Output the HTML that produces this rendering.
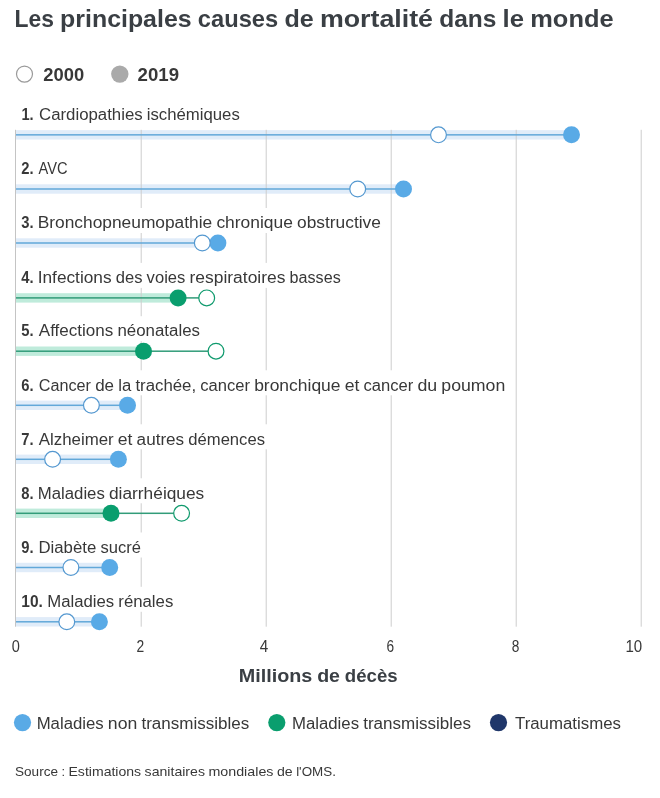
<!DOCTYPE html>
<html lang="fr">
<head>
<meta charset="utf-8">
<title>Les principales causes de mortalité dans le monde</title>
<style>
html,body{margin:0;padding:0;background:#fff;}
body{width:660px;height:798px;overflow:hidden;}
svg{display:block;}
text{font-family:"Liberation Sans", sans-serif;fill:#383838;}
.b{font-weight:bold;}
</style>
</head>
<body>
<svg width="660" height="798" viewBox="0 0 660 798">
<rect width="660" height="798" fill="#fff"/>
<text class="b" x="14.45" y="26.6" font-size="24" textLength="39.42" lengthAdjust="spacingAndGlyphs" style="fill:#3a3f44">Les</text> <text class="b" x="60.08" y="26.6" font-size="24" textLength="131.53" lengthAdjust="spacingAndGlyphs" style="fill:#3a3f44">principales</text> <text class="b" x="197.82" y="26.6" font-size="24" textLength="80.38" lengthAdjust="spacingAndGlyphs" style="fill:#3a3f44">causes</text> <text class="b" x="284.42" y="26.6" font-size="24" textLength="29.27" lengthAdjust="spacingAndGlyphs" style="fill:#3a3f44">de</text> <text class="b" x="319.90" y="26.6" font-size="24" textLength="113.11" lengthAdjust="spacingAndGlyphs" style="fill:#3a3f44">mortalité</text> <text class="b" x="439.22" y="26.6" font-size="24" textLength="57.20" lengthAdjust="spacingAndGlyphs" style="fill:#3a3f44">dans</text> <text class="b" x="502.63" y="26.6" font-size="24" textLength="21.43" lengthAdjust="spacingAndGlyphs" style="fill:#3a3f44">le</text> <text class="b" x="530.28" y="26.6" font-size="24" textLength="83.29" lengthAdjust="spacingAndGlyphs" style="fill:#3a3f44">monde</text>
<circle cx="24.5" cy="74.1" r="8" fill="#fff" stroke="#9a9a9a" stroke-width="1.2"/>
<text class="b" x="43.30" y="81.0" font-size="18" textLength="40.91" lengthAdjust="spacingAndGlyphs">2000</text>
<circle cx="119.8" cy="74.1" r="8.7" fill="#aaa"/>
<text class="b" x="137.60" y="81.0" font-size="18" textLength="41.41" lengthAdjust="spacingAndGlyphs">2019</text>
<rect x="16" y="130.15" width="555.5" height="9.4" fill="#e0ecf9"/>
<rect x="16" y="184.30" width="387.5" height="9.4" fill="#e0ecf9"/>
<rect x="16" y="238.30" width="201.9" height="9.4" fill="#e0ecf9"/>
<rect x="16" y="293.20" width="162.1" height="9.4" fill="#bfebdb"/>
<rect x="16" y="346.50" width="127.5" height="9.4" fill="#bfebdb"/>
<rect x="16" y="400.60" width="111.5" height="9.4" fill="#e0ecf9"/>
<rect x="16" y="454.60" width="102.4" height="9.4" fill="#e0ecf9"/>
<rect x="16" y="508.60" width="95.0" height="9.4" fill="#bfebdb"/>
<rect x="16" y="562.80" width="93.7" height="9.4" fill="#e0ecf9"/>
<rect x="16" y="617.10" width="83.4" height="9.4" fill="#e0ecf9"/>
<rect x="15.0" y="129.8" width="1" height="496.9" fill="#c4c4c4"/>
<rect x="140.7" y="129.8" width="1" height="496.9" fill="#cecece"/>
<rect x="265.7" y="129.8" width="1" height="496.9" fill="#cecece"/>
<rect x="390.7" y="129.8" width="1" height="496.9" fill="#cecece"/>
<rect x="515.7" y="129.8" width="1" height="496.9" fill="#cecece"/>
<rect x="640.7" y="129.8" width="1" height="496.9" fill="#cecece"/>
<rect x="16" y="99.8" width="227.8" height="25" fill="#fff"/>
<rect x="16" y="134.10" width="555.5" height="1.5" fill="#62a8d9"/>
<circle cx="438.5" cy="134.85" r="7.9" fill="#fff" stroke="#5498d0" stroke-width="1.2"/>
<circle cx="571.5" cy="134.85" r="8.5" fill="#59aae6"/>
<text class="b" x="21.38" y="120.0" font-size="16" textLength="12.22" lengthAdjust="spacingAndGlyphs">1.</text>
<text x="39.00" y="120.0" font-size="16" textLength="103.62" lengthAdjust="spacingAndGlyphs">Cardiopathies</text> <text x="146.77" y="120.0" font-size="16" textLength="93.03" lengthAdjust="spacingAndGlyphs">ischémiques</text>
<rect x="16" y="154.0" width="55.0" height="25" fill="#fff"/>
<rect x="16" y="188.25" width="387.5" height="1.5" fill="#62a8d9"/>
<circle cx="357.7" cy="189.00" r="7.9" fill="#fff" stroke="#5498d0" stroke-width="1.2"/>
<circle cx="403.5" cy="189.00" r="8.5" fill="#59aae6"/>
<text class="b" x="21.30" y="174.2" font-size="16" textLength="12.31" lengthAdjust="spacingAndGlyphs">2.</text>
<text x="38.50" y="174.2" font-size="16" textLength="29.01" lengthAdjust="spacingAndGlyphs">AVC</text>
<rect x="16" y="208.0" width="369.0" height="25" fill="#fff"/>
<rect x="16" y="242.25" width="201.9" height="1.5" fill="#62a8d9"/>
<circle cx="217.9" cy="243.00" r="8.5" fill="#59aae6"/>
<circle cx="202.3" cy="243.00" r="7.9" fill="#fff" stroke="#5498d0" stroke-width="1.2"/>
<text class="b" x="21.30" y="228.2" font-size="16" textLength="12.31" lengthAdjust="spacingAndGlyphs">3.</text>
<text x="37.72" y="228.2" font-size="16" textLength="174.52" lengthAdjust="spacingAndGlyphs">Bronchopneumopathie</text> <text x="216.42" y="228.2" font-size="16" textLength="76.49" lengthAdjust="spacingAndGlyphs">chronique</text> <text x="297.08" y="228.2" font-size="16" textLength="83.81" lengthAdjust="spacingAndGlyphs">obstructive</text>
<rect x="16" y="262.9" width="328.7" height="25" fill="#fff"/>
<rect x="16" y="297.15" width="190.7" height="1.5" fill="#329c79"/>
<circle cx="206.7" cy="297.90" r="7.9" fill="#fff" stroke="#0f9a6d" stroke-width="1.2"/>
<circle cx="178.1" cy="297.90" r="8.5" fill="#0a9e6e"/>
<text class="b" x="21.30" y="283.1" font-size="16" textLength="12.31" lengthAdjust="spacingAndGlyphs">4.</text>
<text x="37.72" y="283.1" font-size="16" textLength="73.84" lengthAdjust="spacingAndGlyphs">Infections</text> <text x="115.76" y="283.1" font-size="16" textLength="26.68" lengthAdjust="spacingAndGlyphs">des</text> <text x="146.64" y="283.1" font-size="16" textLength="38.70" lengthAdjust="spacingAndGlyphs">voies</text> <text x="189.54" y="283.1" font-size="16" textLength="95.87" lengthAdjust="spacingAndGlyphs">respiratoires</text> <text x="289.61" y="283.1" font-size="16" textLength="51.09" lengthAdjust="spacingAndGlyphs">basses</text>
<rect x="16" y="316.2" width="188.0" height="25" fill="#fff"/>
<rect x="16" y="350.45" width="200.0" height="1.5" fill="#329c79"/>
<circle cx="216.0" cy="351.20" r="7.9" fill="#fff" stroke="#0f9a6d" stroke-width="1.2"/>
<circle cx="143.5" cy="351.20" r="8.5" fill="#0a9e6e"/>
<text class="b" x="21.30" y="336.4" font-size="16" textLength="12.31" lengthAdjust="spacingAndGlyphs">5.</text>
<text x="38.80" y="336.4" font-size="16" textLength="74.51" lengthAdjust="spacingAndGlyphs">Affections</text> <text x="117.47" y="336.4" font-size="16" textLength="82.53" lengthAdjust="spacingAndGlyphs">néonatales</text>
<rect x="16" y="370.3" width="492.3" height="25" fill="#fff"/>
<rect x="16" y="404.55" width="111.5" height="1.5" fill="#62a8d9"/>
<circle cx="91.4" cy="405.30" r="7.9" fill="#fff" stroke="#5498d0" stroke-width="1.2"/>
<circle cx="127.5" cy="405.30" r="8.5" fill="#59aae6"/>
<text class="b" x="21.30" y="390.5" font-size="16" textLength="12.31" lengthAdjust="spacingAndGlyphs">6.</text>
<text x="38.80" y="390.5" font-size="16" textLength="52.19" lengthAdjust="spacingAndGlyphs">Cancer</text> <text x="95.17" y="390.5" font-size="16" textLength="18.87" lengthAdjust="spacingAndGlyphs">de</text> <text x="118.22" y="390.5" font-size="16" textLength="13.01" lengthAdjust="spacingAndGlyphs">la</text> <text x="135.41" y="390.5" font-size="16" textLength="60.69" lengthAdjust="spacingAndGlyphs">trachée,</text> <text x="200.28" y="390.5" font-size="16" textLength="49.71" lengthAdjust="spacingAndGlyphs">cancer</text> <text x="254.16" y="390.5" font-size="16" textLength="86.33" lengthAdjust="spacingAndGlyphs">bronchique</text> <text x="344.67" y="390.5" font-size="16" textLength="14.70" lengthAdjust="spacingAndGlyphs">et</text> <text x="363.54" y="390.5" font-size="16" textLength="49.71" lengthAdjust="spacingAndGlyphs">cancer</text> <text x="417.42" y="390.5" font-size="16" textLength="19.72" lengthAdjust="spacingAndGlyphs">du</text> <text x="441.32" y="390.5" font-size="16" textLength="63.97" lengthAdjust="spacingAndGlyphs">poumon</text>
<rect x="16" y="424.3" width="253.0" height="25" fill="#fff"/>
<rect x="16" y="458.55" width="102.4" height="1.5" fill="#62a8d9"/>
<circle cx="52.6" cy="459.30" r="7.9" fill="#fff" stroke="#5498d0" stroke-width="1.2"/>
<circle cx="118.4" cy="459.30" r="8.5" fill="#59aae6"/>
<text class="b" x="21.30" y="444.5" font-size="16" textLength="12.31" lengthAdjust="spacingAndGlyphs">7.</text>
<text x="38.80" y="444.5" font-size="16" textLength="74.90" lengthAdjust="spacingAndGlyphs">Alzheimer</text> <text x="117.85" y="444.5" font-size="16" textLength="14.63" lengthAdjust="spacingAndGlyphs">et</text> <text x="136.64" y="444.5" font-size="16" textLength="47.51" lengthAdjust="spacingAndGlyphs">autres</text> <text x="188.31" y="444.5" font-size="16" textLength="76.69" lengthAdjust="spacingAndGlyphs">démences</text>
<rect x="16" y="478.3" width="192.3" height="25" fill="#fff"/>
<rect x="16" y="512.55" width="165.6" height="1.5" fill="#329c79"/>
<circle cx="181.6" cy="513.30" r="7.9" fill="#fff" stroke="#0f9a6d" stroke-width="1.2"/>
<circle cx="111.0" cy="513.30" r="8.5" fill="#0a9e6e"/>
<text class="b" x="21.30" y="498.5" font-size="16" textLength="12.31" lengthAdjust="spacingAndGlyphs">8.</text>
<text x="37.75" y="498.5" font-size="16" textLength="67.05" lengthAdjust="spacingAndGlyphs">Maladies</text> <text x="108.98" y="498.5" font-size="16" textLength="95.32" lengthAdjust="spacingAndGlyphs">diarrhéiques</text>
<rect x="16" y="532.5" width="129.0" height="25" fill="#fff"/>
<rect x="16" y="566.75" width="93.7" height="1.5" fill="#62a8d9"/>
<circle cx="70.9" cy="567.50" r="7.9" fill="#fff" stroke="#5498d0" stroke-width="1.2"/>
<circle cx="109.7" cy="567.50" r="8.5" fill="#59aae6"/>
<text class="b" x="21.30" y="552.7" font-size="16" textLength="12.31" lengthAdjust="spacingAndGlyphs">9.</text>
<text x="38.45" y="552.7" font-size="16" textLength="57.84" lengthAdjust="spacingAndGlyphs">Diabète</text> <text x="100.44" y="552.7" font-size="16" textLength="40.46" lengthAdjust="spacingAndGlyphs">sucré</text>
<rect x="16" y="586.8" width="161.3" height="25" fill="#fff"/>
<rect x="16" y="621.05" width="83.4" height="1.5" fill="#62a8d9"/>
<circle cx="66.8" cy="621.80" r="7.9" fill="#fff" stroke="#5498d0" stroke-width="1.2"/>
<circle cx="99.4" cy="621.80" r="8.5" fill="#59aae6"/>
<text class="b" x="21.33" y="607.0" font-size="16" textLength="21.50" lengthAdjust="spacingAndGlyphs">10.</text>
<text x="47.26" y="607.0" font-size="16" textLength="66.89" lengthAdjust="spacingAndGlyphs">Maladies</text> <text x="118.31" y="607.0" font-size="16" textLength="54.99" lengthAdjust="spacingAndGlyphs">rénales</text>
<text x="11.80" y="651.9" font-size="16" textLength="8.11" lengthAdjust="spacingAndGlyphs">0</text>
<text x="136.50" y="651.9" font-size="16" textLength="7.71" lengthAdjust="spacingAndGlyphs">2</text>
<text x="259.80" y="651.9" font-size="16" textLength="8.50" lengthAdjust="spacingAndGlyphs">4</text>
<text x="386.60" y="651.9" font-size="16" textLength="7.61" lengthAdjust="spacingAndGlyphs">6</text>
<text x="511.80" y="651.9" font-size="16" textLength="7.61" lengthAdjust="spacingAndGlyphs">8</text>
<text x="625.46" y="651.9" font-size="16" textLength="16.75" lengthAdjust="spacingAndGlyphs">10</text>
<text class="b" x="238.76" y="681.6" font-size="19" textLength="73.54" lengthAdjust="spacingAndGlyphs" style="fill:#3a3f44">Millions</text> <text class="b" x="317.15" y="681.6" font-size="19" textLength="22.86" lengthAdjust="spacingAndGlyphs" style="fill:#3a3f44">de</text> <text class="b" x="344.86" y="681.6" font-size="19" textLength="52.79" lengthAdjust="spacingAndGlyphs" style="fill:#3a3f44">décès</text>
<circle cx="22.5" cy="722.6" r="8.6" fill="#59aae6"/>
<text x="36.65" y="728.9" font-size="16" textLength="67.05" lengthAdjust="spacingAndGlyphs">Maladies</text> <text x="107.88" y="728.9" font-size="16" textLength="29.44" lengthAdjust="spacingAndGlyphs">non</text> <text x="141.49" y="728.9" font-size="16" textLength="107.71" lengthAdjust="spacingAndGlyphs">transmissibles</text>
<circle cx="276.8" cy="722.6" r="8.6" fill="#0a9e6e"/>
<text x="291.95" y="728.9" font-size="16" textLength="67.09" lengthAdjust="spacingAndGlyphs">Maladies</text> <text x="363.22" y="728.9" font-size="16" textLength="107.78" lengthAdjust="spacingAndGlyphs">transmissibles</text>
<circle cx="498.5" cy="722.6" r="8.6" fill="#20376a"/>
<text x="515.00" y="728.9" font-size="16" textLength="106.00" lengthAdjust="spacingAndGlyphs">Traumatismes</text>
<text x="15.00" y="775.9" font-size="13.33" textLength="42.99" lengthAdjust="spacingAndGlyphs">Source</text> <text x="61.47" y="775.9" font-size="13.33" textLength="3.56" lengthAdjust="spacingAndGlyphs">:</text> <text x="68.50" y="775.9" font-size="13.33" textLength="72.63" lengthAdjust="spacingAndGlyphs">Estimations</text> <text x="144.61" y="775.9" font-size="13.33" textLength="60.34" lengthAdjust="spacingAndGlyphs">sanitaires</text> <text x="208.42" y="775.9" font-size="13.33" textLength="65.06" lengthAdjust="spacingAndGlyphs">mondiales</text> <text x="276.96" y="775.9" font-size="13.33" textLength="15.71" lengthAdjust="spacingAndGlyphs">de</text> <text x="296.15" y="775.9" font-size="13.33" textLength="39.76" lengthAdjust="spacingAndGlyphs">l'OMS.</text>
</svg>
</body>
</html>
